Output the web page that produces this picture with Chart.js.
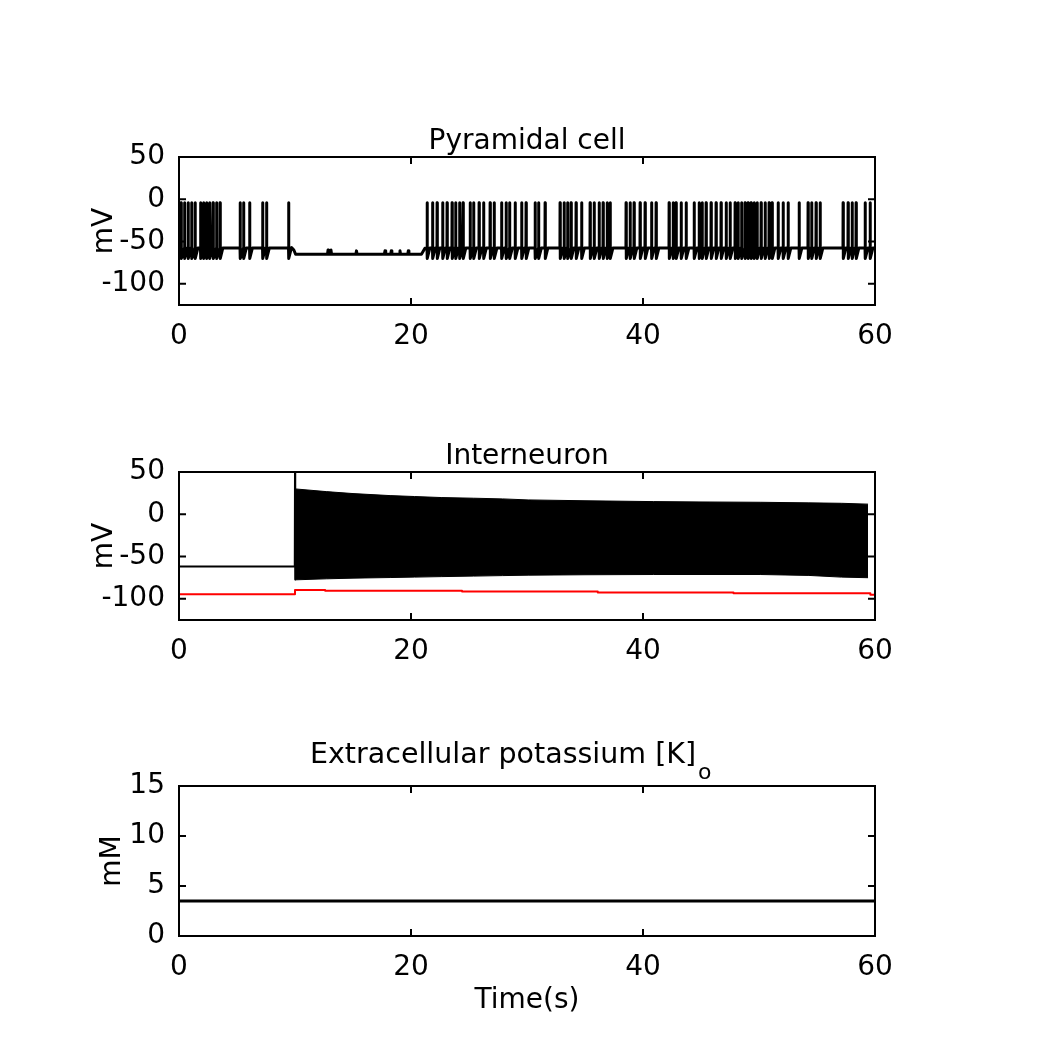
<!DOCTYPE html>
<html>
<head>
<meta charset="utf-8">
<script src="https://cdn.jsdelivr.net/npm/chart.js@4.4.1/dist/chart.umd.min.js"></script>
<style>
  body { margin: 0; background: #fff; }
  #page { position: relative; width: 1050px; height: 1050px; }
  #page canvas { position: absolute; left: 0; }
</style>
</head>
<body>
<div id="page">
  <canvas id="pyrChart" width="1050" height="260" style="top:100px"></canvas>
  <canvas id="intChart" width="1050" height="260" style="top:415px"></canvas>
  <canvas id="kChart" width="1050" height="296" style="top:730px"></canvas>
</div>
<script>
// ---- tick labels ----
const xTicks = [0, 20, 40, 60];
const mvTicks = [-100, -50, 0, 50];
const mmTicks = [0, 5, 10, 15];

// ---- pyramidal cell ----
// spike times (s)
const pyrSpikes = [
  0.17, 0.47, 0.78, 1.08, 1.38, 1.85, 2.11, 2.37, 2.63, 2.93, 3.23, 3.53,
  5.26, 5.56, 6.08, 7.20, 7.54, 9.44,
  21.38, 21.85, 22.24, 22.72, 23.10, 23.53, 23.84, 24.18, 24.48, 25.09, 25.39, 25.86,
  26.25, 26.81, 27.16, 27.80, 28.19, 28.49, 28.97, 29.53, 29.91, 30.69, 30.99, 31.55,
  32.84, 33.19, 33.49, 33.79, 34.22, 34.70, 35.43, 35.78, 36.21, 36.55, 36.90, 37.16,
  38.53, 38.88, 39.22, 39.74, 40.17, 40.73, 41.12, 42.24, 42.59, 42.84, 43.28, 43.71,
  44.40, 44.83, 45.09, 45.43, 45.86, 46.29, 46.72, 47.16, 47.50, 47.93, 48.19, 48.49,
  48.79, 49.05, 49.31, 49.57, 49.83, 50.17, 50.52, 50.86, 51.12, 51.64, 52.07, 52.50,
  53.45, 54.22, 54.53, 54.91, 55.26, 57.24, 57.67, 58.02, 58.36, 59.14, 59.57
];
const pyrRest = -57.5;
const pyrPeak = -4;
const pyrTrough = -70;
// quiet stretch 10-21 s: hyperpolarised with small bumps
const pyrQuietT = [9.70, 9.90, 10.05, 12.80, 12.85, 12.90, 13.05, 13.10, 13.15, 15.25, 15.30, 15.35,
  17.70, 17.76, 17.82, 18.25, 18.30, 18.35, 19.00, 19.05, 19.10, 19.72, 19.77, 19.82, 20.90, 21.20];
const pyrQuietV = [-57, -60, -65, -65, -60, -65, -65, -60, -65, -65, -61, -65,
  -65, -61, -65, -65, -61, -65, -65, -61, -65, -65, -61, -65, -65, -58];

// ---- interneuron ----
const intPreT = [0, 9.98, 10.0, 10.02];
const intPreV = [-61.8, -61.8, 50, -77];
// envelope of the fast spiking band
const bandT = [10.02, 12.7, 15.0, 18.2, 20.3, 22.6, 25.4, 27.9, 30.1, 35.0, 40.9, 45.0, 50.1, 54.3, 57.1, 59.4];
const bandTop = [30, 26.8, 24.5, 22.1, 21, 19.8, 19, 18.2, 17, 16, 15, 14.6, 14.2, 13.5, 13, 12];
const bandBottom = [-77.5, -76.3, -75.5, -74.8, -74.3, -73.7, -73.1, -72.5, -72, -71.5, -71.2, -71.2, -71.2, -72.3, -74.3, -75];
// red trace, piecewise constant
const redT = [0, 10.0, 12.6, 24.4, 36.1, 47.8, 59.6, 60];
const redV = [-94.7, -89.4, -90.4, -91.2, -92.4, -93.5, -95, -95];

// ---- potassium ----
const kT = [0, 60];
const kV = [3.5, 3.5];

const font = { family: 'DejaVu Sans', size: 28 };

function pts(xs, ys) {
  return xs.map((x, i) => ({ x: x, y: ys[i] }));
}

// spike train built from the read spike times
function buildPyrTrace() {
  const out = [{ x: 0, y: pyrRest }];
  pyrSpikes.forEach((t, i) => {
    const next = pyrSpikes[i + 1];
    out.push({ x: t, y: pyrRest });
    out.push({ x: t + 0.01, y: pyrPeak });
    out.push({ x: t + 0.03, y: pyrTrough });
    if (next === undefined || next - t > 0.3) out.push({ x: t + 0.25, y: pyrRest });
  });
  pts(pyrQuietT, pyrQuietV).forEach(p => out.push(p));
  out.push({ x: 60, y: pyrRest });
  out.sort((a, b) => a.x - b.x);
  return out;
}

function line(data, color, width, extra) {
  return Object.assign({
    data: data,
    borderColor: color,
    borderWidth: width,
    pointRadius: 0,
    tension: 0,
    fill: false,
    borderJoinStyle: 'round'
  }, extra || {});
}

function axes(yMin, yMax, yTickVals, yTitle, yTitlePad, xTitle) {
  return {
    x: {
      type: 'linear', min: 0, max: 60,
      afterBuildTicks: s => { s.ticks = xTicks.map(v => ({ value: v })); },
      afterFit: s => { s.height = xTitle ? 90 : 55; },
      grid: { display: false, drawTicks: false },
      border: { display: false },
      ticks: { color: '#000', font: font, padding: 15, maxRotation: 0, autoSkip: false },
      title: { display: !!xTitle, text: xTitle || '', color: '#000', font: font, padding: { top: 0, bottom: 8 } }
    },
    y: {
      type: 'linear', min: yMin, max: yMax,
      afterBuildTicks: s => { s.ticks = yTickVals.map(v => ({ value: v })); },
      afterFit: s => { s.width = 179; },
      grid: { display: false, drawTicks: false },
      border: { display: false },
      ticks: { color: '#000', font: font, padding: 14 },
      title: { display: true, text: yTitle, color: '#000', font: font, padding: { top: yTitlePad, bottom: 0 } }
    }
  };
}

// box round the plot with inward ticks on all four sides
const frameTicks = {
  id: 'frameTicks',
  afterDatasetsDraw(chart) {
    const { ctx, chartArea: a, scales: { x, y } } = chart;
    ctx.save();
    ctx.strokeStyle = '#000';
    ctx.lineWidth = 2;
    ctx.strokeRect(a.left, a.top, a.right - a.left, a.bottom - a.top);
    ctx.beginPath();
    x.ticks.forEach(t => {
      const px = x.getPixelForValue(t.value);
      ctx.moveTo(px, a.bottom); ctx.lineTo(px, a.bottom - 7);
      ctx.moveTo(px, a.top); ctx.lineTo(px, a.top + 7);
    });
    y.ticks.forEach(t => {
      const py = y.getPixelForValue(t.value);
      ctx.moveTo(a.left, py); ctx.lineTo(a.left + 7, py);
      ctx.moveTo(a.right, py); ctx.lineTo(a.right - 7, py);
    });
    ctx.stroke();
    ctx.restore();
  }
};

// panel title above the plot, optional subscript
const panelTitle = {
  id: 'panelTitle',
  afterDraw(chart, args, opts) {
    const { ctx, chartArea: a } = chart;
    if (!opts.text) return;
    ctx.save();
    ctx.fillStyle = '#000';
    ctx.textBaseline = 'alphabetic';
    ctx.font = opts.size + 'px "DejaVu Sans"';
    if (opts.sub) {
      ctx.textAlign = 'left';
      const x0 = a.left + 131;
      ctx.fillText(opts.text, x0, a.top - opts.gap);
      const w = ctx.measureText(opts.text).width;
      ctx.font = '22px "DejaVu Sans"';
      ctx.fillText(opts.sub, x0 + w + 2, a.top - 7);
    } else {
      ctx.textAlign = 'center';
      ctx.fillText(opts.text, (a.left + a.right) / 2, a.top - opts.gap);
    }
    ctx.restore();
  }
};

function baseOptions(scales, title, padTop) {
  return {
    responsive: false,
    animation: false,
    events: [],
    layout: { padding: { top: padTop, right: 175, left: 0, bottom: 0 } },
    scales: scales,
    plugins: {
      legend: { display: false },
      tooltip: { enabled: false },
      title: { display: false },
      panelTitle: title
    }
  };
}

new Chart(document.getElementById('pyrChart'), {
  type: 'line',
  data: { datasets: [line(buildPyrTrace(), '#000', 3)] },
  options: baseOptions(axes(-125, 50, mvTicks, 'mV', 88),
    { text: 'Pyramidal cell', size: 28, gap: 8 }, 57),
  plugins: [frameTicks, panelTitle]
});

new Chart(document.getElementById('intChart'), {
  type: 'line',
  data: {
    datasets: [
      line(pts(bandT, bandTop), '#000', 1, { fill: '+1', backgroundColor: '#000' }),
      line(pts(bandT, bandBottom), '#000', 1),
      line(pts(intPreT, intPreV), '#000', 2),
      line(pts(redT, redV), '#ff0000', 2, { stepped: 'before' })
    ]
  },
  options: baseOptions(axes(-125, 50, mvTicks, 'mV', 88),
    { text: 'Interneuron', size: 28, gap: 8 }, 57),
  plugins: [frameTicks, panelTitle]
});

new Chart(document.getElementById('kChart'), {
  type: 'line',
  data: { datasets: [line(pts(kT, kV), '#000', 3)] },
  options: baseOptions(axes(0, 15, mmTicks, 'mM', 96, 'Time(s)'),
    { text: 'Extracellular potassium [K]', sub: 'o', size: 28.5, gap: 23 }, 56),
  plugins: [frameTicks, panelTitle]
});
</script>
</body>
</html>
